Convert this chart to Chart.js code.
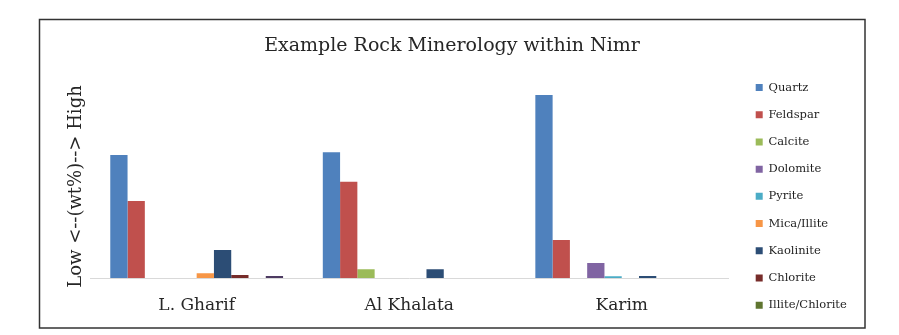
<!DOCTYPE html>
<html>
<head>
<meta charset="utf-8">
<script src="https://cdn.jsdelivr.net/npm/chart.js@4"></script>
<style>
  html, body { margin: 0; padding: 0; background: #ffffff; }
  #wrap { width: 899px; height: 335px; position: relative; }
</style>
</head>
<body>
<div id="wrap"><canvas id="c"></canvas></div>
<script>
// ---- data ----
const categories = ["L. Gharif", "Al Khalata", "Karim"];
const seriesNames = ["Quartz", "Feldspar", "Calcite", "Dolomite", "Pyrite", "Mica/Illite", "Kaolinite", "Chlorite", "Illite/Chlorite", "Other"];
const quartz         = [41.0, 41.9, 61.0];
const feldspar       = [25.7, 32.1, 12.7];
const calcite        = [0,    2.9,  0];
const dolomite       = [0,    0,    5.0];
const pyrite         = [0,    0,    0.6];
const micaIllite     = [1.6,  0,    0];
const kaolinite      = [9.3,  2.9,  0.65];
const chlorite       = [1.0,  0,    0];
const illiteChlorite = [0,    0,    0];
const other          = [0.7,  0,    0];
const seriesValues = [quartz, feldspar, calcite, dolomite, pyrite, micaIllite, kaolinite, chlorite, illiteChlorite, other];
const seriesColors = ["#4F81BD", "#C0504D", "#9BBB59", "#8064A2", "#4BACC6", "#F79646", "#2C4D75", "#772C2A", "#5F7530", "#4D3B62"];
const titleText = "Example Rock Minerology within Nimr";
const yTitleText = "Low <--(wt%)--> High";
const legendCount = 9;

const FONT = "'DejaVu Serif', serif";
const LEG_SIZE = 11.5, LEG_BOX = 7, LEG_PAD = 15.7;

// legend width so that the legend starts right where the reference's does
const mctx = document.createElement('canvas').getContext('2d');
mctx.font = LEG_SIZE + "px " + FONT;
const maxText = Math.max(...seriesNames.slice(0, legendCount).map(t => mctx.measureText(t).width));
const legendWidth = LEG_PAD + LEG_BOX + LEG_SIZE / 2 + maxText + 10;
const legendLeft = 740;
const padRight = 899 - legendLeft - legendWidth;
const padLeft = 5 + padRight;           // keeps the title centred on x = 452
const yTitleLine = 18 * 1.2;

const framePlugin = {
  id: 'frame',
  beforeDraw(chart) {
    const ctx = chart.ctx;
    ctx.save();
    ctx.fillStyle = '#ffffff';
    ctx.fillRect(0, 0, chart.width, chart.height);
    ctx.restore();
  },
  afterDraw(chart) {
    const ctx = chart.ctx;
    ctx.save();
    ctx.strokeStyle = '#333333';
    ctx.lineWidth = 1.5;
    ctx.strokeRect(39.5, 19.5, 825.5, 308.5);
    ctx.restore();
  }
};

new Chart(document.getElementById('c'), {
  type: 'bar',
  data: {
    labels: categories,
    datasets: seriesNames.map((n, i) => ({
      label: n,
      data: seriesValues[i],
      backgroundColor: seriesColors[i],
      borderWidth: 0,
      categoryPercentage: 0.813,
      barPercentage: 1.0
    }))
  },
  options: {
    responsive: true,
    maintainAspectRatio: false,
    animation: false,
    layout: { padding: { left: padLeft, right: padRight, top: 20, bottom: 8.4 } },
    plugins: {
      tooltip: { enabled: false },
      title: {
        display: true,
        text: titleText,
        color: '#262626',
        font: { family: FONT, size: 19, weight: 'normal', lineHeight: 1.2 },
        padding: { top: 14.4, bottom: 37.8 }
      },
      legend: {
        display: true,
        position: 'right',
        align: 'end',
        fullSize: true,
        labels: {
          boxWidth: LEG_BOX,
          boxHeight: LEG_BOX,
          padding: LEG_PAD,
          color: '#1f1f1f',
          font: { family: FONT, size: LEG_SIZE },
          filter: (item) => item.datasetIndex < legendCount
        }
      }
    },
    scales: {
      x: {
        position: 'bottom',
        grid: { display: true, drawOnChartArea: false, drawTicks: false },
        border: { display: true, color: '#d9d9d9', width: 1 },
        ticks: { padding: 17.5, color: '#262626', font: { family: FONT, size: 17 }, maxRotation: 0 },
        afterFit: (s) => { s.height = 48.6; }
      },
      y: {
        position: 'left',
        min: 0,
        max: 61,
        grid: { display: false },
        border: { display: false },
        ticks: { display: false },
        title: {
          display: true,
          text: yTitleText,
          color: '#262626',
          font: { family: FONT, size: 18, lineHeight: 1.2 },
          padding: { top: 76 - yTitleLine / 2 - padLeft, bottom: 4 }
        },
        afterFit: (s) => { s.width = 90.4 - padLeft; }
      },
      gap: {
        type: 'linear',
        position: 'right',
        display: true,
        grid: { display: false },
        border: { display: false },
        ticks: { display: false },
        afterFit: (s) => { s.width = 12; }
      }
    }
  },
  plugins: [framePlugin]
});
</script>
</body>
</html>
